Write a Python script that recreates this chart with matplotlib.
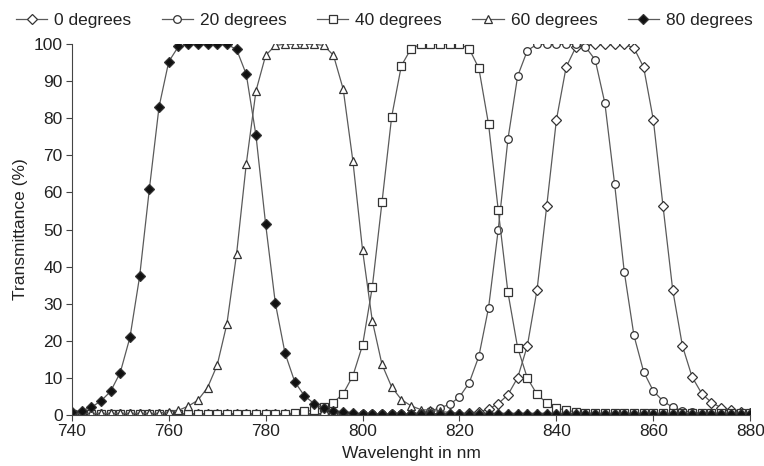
import numpy as np
import matplotlib
matplotlib.use('Agg')
import matplotlib.pyplot as plt

plt.rcParams['font.family'] = ['Liberation Sans', 'DejaVu Sans']

# wavelength grid, every 2 nm
wavelength = np.arange(740, 881, 2)

deg0 = [0.2] * 41 + [0.4, 0.8, 1.5, 3.0, 5.4, 10.0, 18.6, 33.7, 56.3, 79.6, 93.8, 99.2,
                     100, 100, 100, 100, 100, 99.0, 93.8, 79.6, 56.3, 33.7, 18.6, 10.2,
                     5.7, 3.3, 1.9, 1.2, 0.8, 0.6]

deg20 = [0.1] * 35 + [0.3, 0.6, 1.0, 1.9, 2.8, 4.8, 8.6, 15.8, 28.9, 50.0, 74.4, 91.4,
                      98.3, 100, 100, 100, 100, 100, 99.3, 95.8, 84.1, 62.4, 38.6, 21.4,
                      11.6, 6.4, 3.7, 2.0, 1.1, 0.7, 0.5] + [0.4] * 5

deg40 = [0.3] * 23 + [0.4, 0.9, 1.2, 2.1, 3.3, 5.7, 10.5, 18.8, 34.4, 57.3, 80.4, 94.2,
                      98.8, 100, 100, 100, 100, 100, 98.8, 93.5, 78.4, 55.2, 33.0, 18.1,
                      9.9, 5.5, 3.2, 1.8, 1.2, 0.8, 0.5] + [0.4] * 17

deg60 = [0.4] * 10 + [0.8, 1.2, 2.3, 3.9, 7.3, 13.4, 24.5, 43.4, 67.7, 87.4, 97.0, 99.7,
                      100, 100, 100, 100, 99.7, 97.0, 87.9, 68.5, 44.4, 25.4, 13.6, 7.5,
                      4.1, 2.4, 1.4, 1.2, 0.9, 0.6] + [0.4] * 31

deg80 = [0.8, 1.1, 2.0, 3.7, 6.3, 11.4, 20.9, 37.4, 60.9, 83.1, 95.3, 99.4, 100, 100,
         100, 100, 100, 98.6, 91.9, 75.4, 51.4, 30.1, 16.6, 8.9, 5.1, 3.0, 1.7, 1.1,
         0.8, 0.6] + [0.2] * 41

labels = ['0 degrees', '20 degrees', '40 degrees', '60 degrees', '80 degrees']
series = [deg0, deg20, deg40, deg60, deg80]
markers = ['D', 'o', 's', '^', 'D']
sizes = [5.5, 5.5, 5.5, 6, 4.8]
faces = ['white', 'white', 'white', 'white', '#111111']

fig = plt.figure(figsize=(7.64, 4.66), dpi=100)
ax = fig.add_axes([0.094, 0.110, 0.888, 0.795])

for y, lab, m, s, fc in zip(series, labels, markers, sizes, faces):
    ax.plot(wavelength, y, color='#5a5a5a', lw=0.9, marker=m, markersize=s,
            markerfacecolor=fc, markeredgecolor='#333333', markeredgewidth=0.9,
            label=lab)

ax.set_xlim(740, 880)
ax.set_ylim(0, 100)
ax.set_xticks(range(740, 881, 20))
ax.set_yticks(range(0, 101, 10))
ax.spines['top'].set_visible(False)
ax.spines['right'].set_visible(False)
for sp in ['left', 'bottom']:
    ax.spines[sp].set_color('#444444')
ax.tick_params(direction='out', length=4, colors='#444444', labelcolor='#222222',
               labelsize=12.5, pad=2.5)
ax.set_xlabel('Wavelenght in nm', fontsize=12.5, color='#222222', labelpad=5)
ax.set_ylabel('Transmittance (%)', fontsize=12.5, color='#222222', labelpad=4)

fig.legend(loc='upper center', bbox_to_anchor=(0.503, 1.005), ncol=5, frameon=False,
           fontsize=12.5, handlelength=1.8, columnspacing=1.75, handletextpad=0.4,
           labelcolor='#222222')

fig.savefig('out.png', dpi=100)
